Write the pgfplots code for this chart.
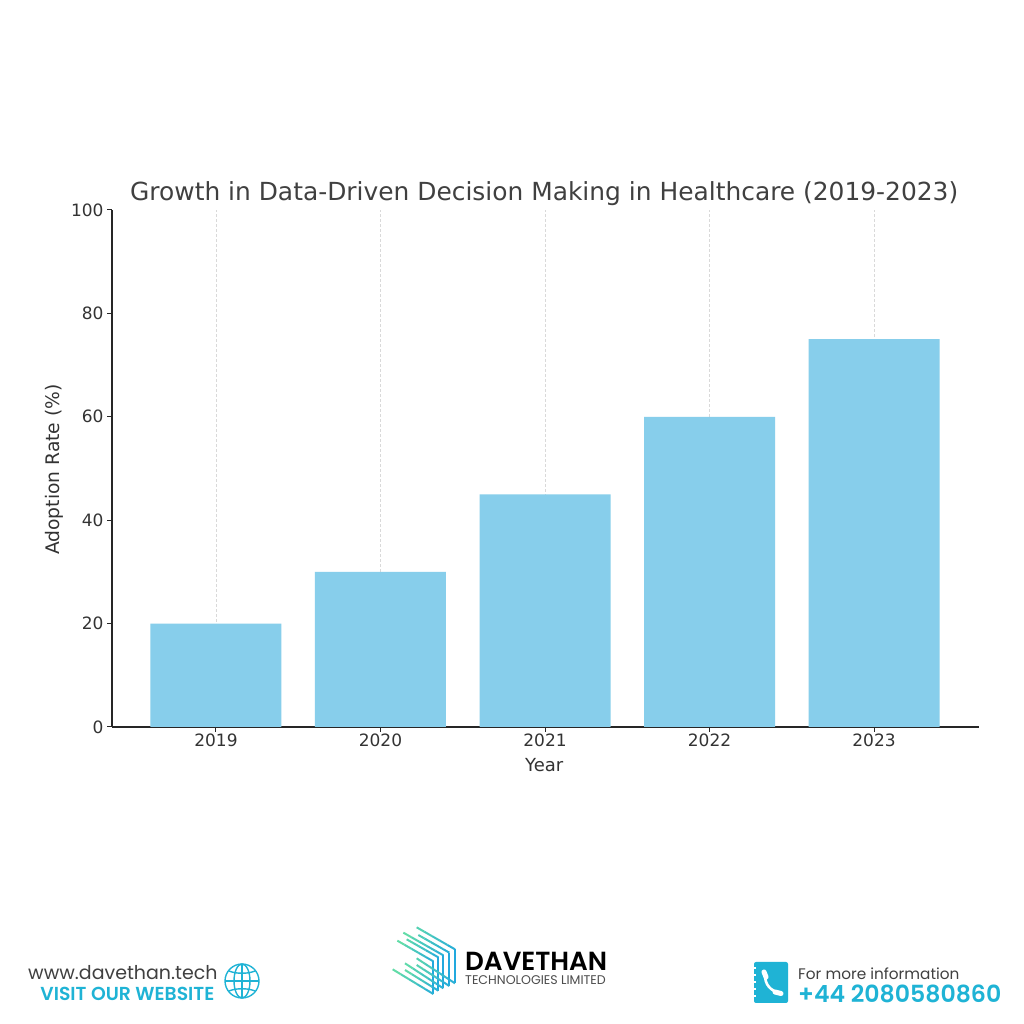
\documentclass[border=0pt]{standalone}
\usepackage{pgfplots}
\pgfplotsset{compat=1.18}
\usepackage{fontspec}
\usetikzlibrary{calc}
\setmainfont{DejaVu Sans}
\newfontfamily\foot{Poppins}
\newfontfamily\footb{Poppins SemiBold}
\definecolor{barblue}{HTML}{87CEEB}
\definecolor{teal}{HTML}{1FB3D5}
\definecolor{ink}{HTML}{333333}
\definecolor{lgreen}{HTML}{62DCA8}
\definecolor{lblue}{HTML}{22A9DE}
\newcommand\seg[5]{%
  \foreach \t [evaluate=\t as \s using {\t+0.2}, evaluate=\t as \m using {#5+\t*(100-#5)}] in {0,0.2,0.4,0.6,0.8}{
    \pgfmathsetmacro\mm{min(100,\m)}
    \draw[lblue!\mm!lgreen,line width=2pt] ($(#1,#2)!\t!(#3,#4)$) -- ($(#1,#2)!\s!(#3,#4)$);
  }}
\pgfplotstableread{
x y
0 20
1 30
2 45
3 60
4 75
}\adoption
\begin{document}
\begin{tikzpicture}[x=1pt,y=1pt]
\path[use as bounding box,fill=white] (0,0) rectangle (1024,1024);
\begin{axis}[
  at={(112pt,297pt)},anchor=south west,
  scale only axis,width=867pt,height=517pt,
  xmin=-0.632,xmax=4.638,ymin=0,ymax=100,
  axis x line*=bottom,axis y line*=left,
  axis line style={-,black!85,line width=1.3pt},
  xtick={0,1,2,3,4},xticklabels={2019,2020,2021,2022,2023},
  ytick={0,20,40,60,80,100},
  tick style={black!85,line width=1pt},
  major tick length=5pt,
  tick align=outside,
  xticklabel style={font=\fontsize{17}{20}\selectfont,text=ink,yshift=2pt},
  yticklabel style={font=\fontsize{17}{20}\selectfont,text=ink},
  /pgf/number format/assume math mode=true,
  xmajorgrids,
  x grid style={densely dashed,black!15,line width=0.8pt},
  xlabel={Year},
  ylabel={Adoption Rate (\%)},
  xlabel style={font=\fontsize{18}{20}\selectfont,text=ink,at={(axis description cs:0.4985,0)},anchor=north,yshift=-28pt},
  ylabel style={font=\fontsize{18.7}{20}\selectfont,text=ink,at={(axis description cs:0,0.498)},anchor=south,yshift=45pt},
  title={Growth in Data-Driven Decision Making in Healthcare (2019-2023)},
  title style={font=\fontsize{24.9}{28}\selectfont,text=black!75,at={(axis description cs:0.4985,1)},anchor=south,yshift=-5pt},
]
\addplot[ybar,bar width=131pt,bar shift=0pt,fill=barblue,draw=none] table[x=x,y=y]{\adoption};
\end{axis}
% footer left
\node[anchor=west,inner sep=0pt,text=black!75] at (28,51) {\foot\fontsize{19}{20}\selectfont www.davethan.tech};
\node[anchor=east,inner sep=0pt,text=teal] at (214.5,30.5) {\footb\fontsize{18.8}{20}\selectfont VISIT OUR WEBSITE};
\begin{scope}[teal,line width=1.4pt]
\draw (242,43) circle (17);
\draw (242,43) ellipse (8 and 17);
\draw (242,26)--(242,60);
\draw (225,43)--(259,43);
\draw (229,53) .. controls (236,50) and (248,50) .. (255,53);
\draw (229,33) .. controls (236,36) and (248,36) .. (255,33);
\end{scope}
% logo, in the coordinates of the 3x crop at (380,920)
\begin{scope}[shift={(380,104)},x=0.3333pt,y=-0.3333pt]
  \seg{110}{22}{225}{88}{20}
  \seg{115}{45}{208}{98}{30}
  \seg{70}{38}{190}{106}{0}
  \seg{80}{58}{175}{112}{15}
  \seg{52}{62}{160}{124}{0}
  \foreach \x/\a/\b in {225/88/190,208/98/198,190/106/205,175/112/212,160/124/222}
    \draw[lblue,line width=2pt] (\x,\a) -- (\x,\b);
  \seg{38}{148}{160}{222}{0}
  \seg{75}{150}{175}{212}{5}
  \seg{75}{130}{190}{205}{5}
  \seg{110}{135}{208}{198}{20}
  \seg{110}{115}{225}{190}{20}
\end{scope}
\node[anchor=west,inner sep=0pt,text=black] at (465,63) {\footb\fontsize{26.2}{28}\selectfont DAVETHAN};
\node[anchor=west,inner sep=0pt,text=black!70] at (465,43.5) {\foot\fontsize{12.6}{14}\selectfont TECHNOLOGIES LIMITED};
% right
\fill[teal,rounded corners=2pt] (754,21) rectangle (788,62);
\foreach \y in {28,35,42,49,56}
  \fill[white] (753.5,\y-0.8) rectangle (756,\y+0.8);
\draw[white,line width=2.6pt,line cap=round] (765,50) .. controls (764.5,39) and (771,33) .. (780,31);
\draw[white,line width=5pt,line cap=round] (764,52) -- (766,47);
\draw[white,line width=5pt,line cap=round] (775,32) -- (781,30.5);
\node[anchor=west,inner sep=0pt,text=black!75] at (798,50.5) {\foot\fontsize{15.3}{18}\selectfont For more information};
\node[anchor=west,inner sep=0pt,text=teal] at (798,30.5) {\footb\fontsize{23.6}{28}\selectfont +44 2080580860};
\end{tikzpicture}
\end{document}
